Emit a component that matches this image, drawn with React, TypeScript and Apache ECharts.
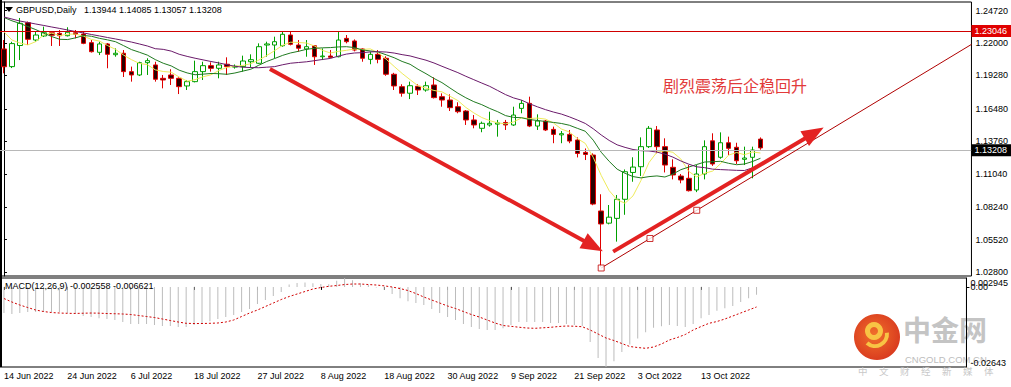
import React, { useEffect, useRef } from "react";
import * as echarts from "echarts";

const FONT = "'Liberation Sans', Arial, sans-serif";
const CJK = "'Noto Sans CJK SC', sans-serif";

const symbolName = "GBPUSD,Daily";
const lastOHLC = [1.13944, 1.14085, 1.13057, 1.13208];
const macdLabel = "MACD(12,26,9) -0.002558 -0.006621";
const noteText = "剧烈震荡后企稳回升";

const dates = [
  "14 Jun 2022", "15 Jun 2022", "16 Jun 2022", "17 Jun 2022", "20 Jun 2022", "21 Jun 2022", "22 Jun 2022", "23 Jun 2022",
  "24 Jun 2022", "27 Jun 2022", "28 Jun 2022", "29 Jun 2022", "30 Jun 2022", "1 Jul 2022", "4 Jul 2022", "5 Jul 2022",
  "6 Jul 2022", "7 Jul 2022", "8 Jul 2022", "11 Jul 2022", "12 Jul 2022", "13 Jul 2022", "14 Jul 2022", "15 Jul 2022",
  "18 Jul 2022", "19 Jul 2022", "20 Jul 2022", "21 Jul 2022", "22 Jul 2022", "24 Jul 2022", "25 Jul 2022", "26 Jul 2022",
  "27 Jul 2022", "28 Jul 2022", "29 Jul 2022", "1 Aug 2022", "2 Aug 2022", "3 Aug 2022", "4 Aug 2022", "5 Aug 2022",
  "8 Aug 2022", "9 Aug 2022", "10 Aug 2022", "11 Aug 2022", "12 Aug 2022", "15 Aug 2022", "16 Aug 2022", "17 Aug 2022",
  "18 Aug 2022", "19 Aug 2022", "22 Aug 2022", "23 Aug 2022", "24 Aug 2022", "25 Aug 2022", "26 Aug 2022", "29 Aug 2022",
  "30 Aug 2022", "31 Aug 2022", "1 Sep 2022", "2 Sep 2022", "5 Sep 2022", "6 Sep 2022", "7 Sep 2022", "8 Sep 2022",
  "9 Sep 2022", "12 Sep 2022", "13 Sep 2022", "14 Sep 2022", "15 Sep 2022", "16 Sep 2022", "19 Sep 2022", "20 Sep 2022",
  "21 Sep 2022", "22 Sep 2022", "23 Sep 2022", "26 Sep 2022", "27 Sep 2022", "28 Sep 2022", "29 Sep 2022", "30 Sep 2022",
  "3 Oct 2022", "4 Oct 2022", "5 Oct 2022", "6 Oct 2022", "7 Oct 2022", "10 Oct 2022", "11 Oct 2022", "12 Oct 2022",
  "13 Oct 2022", "14 Oct 2022", "17 Oct 2022", "18 Oct 2022", "19 Oct 2022", "20 Oct 2022", "21 Oct 2022", "24 Oct 2022",
];

const opens = [
  1.2150, 1.2002, 1.2179, 1.2370, 1.2225, 1.2259, 1.2286, 1.2281, 1.2261, 1.2286,
  1.2275, 1.2203, 1.2122, 1.2192, 1.2102, 1.2114, 1.1960, 1.1932, 1.2035, 1.2016,
  1.1904, 1.1932, 1.1904, 1.1840, 1.1876, 1.1960, 1.2010, 1.1988, 1.2022, 1.1998,
  1.2002, 1.2043, 1.2030, 1.2183, 1.2183, 1.2177, 1.2267, 1.2183, 1.2150, 1.2177,
  1.2085, 1.2091, 1.2085, 1.2239, 1.2217, 1.2150, 1.2063, 1.2105, 1.2072, 1.1938,
  1.1834, 1.1779, 1.1837, 1.1806, 1.1848, 1.1750, 1.1722, 1.1666, 1.1630, 1.1555,
  1.1485, 1.1513, 1.1520, 1.1534, 1.1513, 1.1652, 1.1694, 1.1504, 1.1546, 1.1476,
  1.1430, 1.1434, 1.1387, 1.1283, 1.1261, 1.0792, 1.0690, 1.0730, 1.0890, 1.1115,
  1.1163, 1.1331, 1.1471, 1.1331, 1.1158, 1.1085, 1.1066, 1.0968, 1.1102, 1.1380,
  1.1242, 1.1364, 1.1326, 1.1225, 1.1242, 1.13944,
];
const highs = [
  1.2225, 1.2210, 1.2410, 1.2380, 1.2295, 1.2337, 1.2300, 1.2309, 1.2332, 1.2309,
  1.2295, 1.2225, 1.2211, 1.2200, 1.2155, 1.2141, 1.2002, 1.2043, 1.2072, 1.2043,
  1.1932, 1.1980, 1.1912, 1.1890, 1.2052, 1.2043, 1.2038, 1.2043, 1.2080, 1.2020,
  1.2094, 1.2105, 1.2197, 1.2211, 1.2253, 1.2300, 1.2295, 1.2225, 1.2225, 1.2183,
  1.2155, 1.2141, 1.2295, 1.2267, 1.2230, 1.2155, 1.2127, 1.2141, 1.2089, 1.1950,
  1.1854, 1.1876, 1.1854, 1.1876, 1.1912, 1.1778, 1.1770, 1.1703, 1.1638, 1.1596,
  1.1541, 1.1624, 1.1555, 1.1555, 1.1666, 1.1722, 1.1750, 1.1602, 1.1555, 1.1499,
  1.1462, 1.1471, 1.1409, 1.1316, 1.1275, 1.0932, 1.0842, 1.0926, 1.1140, 1.1242,
  1.1409, 1.1504, 1.1504, 1.1401, 1.1225, 1.1102, 1.1177, 1.1177, 1.1384, 1.1443,
  1.1451, 1.1415, 1.1364, 1.1331, 1.1331, 1.14085,
];
const lows = [
  1.1946, 1.1990, 1.2057, 1.2183, 1.2211, 1.2250, 1.2175, 1.2175, 1.2255, 1.2239,
  1.2190, 1.2120, 1.2099, 1.1988, 1.2085, 1.1915, 1.1876, 1.1923, 1.1932, 1.1876,
  1.1820, 1.1848, 1.1772, 1.1806, 1.1870, 1.1890, 1.1960, 1.1904, 1.1932, 1.1985,
  1.1960, 1.1993, 1.2025, 1.2085, 1.2072, 1.2169, 1.2180, 1.2127, 1.2085, 1.2016,
  1.2057, 1.2072, 1.2080, 1.2197, 1.2130, 1.2043, 1.2022, 1.2030, 1.1925, 1.1806,
  1.1750, 1.1730, 1.1764, 1.1792, 1.1735, 1.1666, 1.1630, 1.1611, 1.1513, 1.1485,
  1.1452, 1.1499, 1.1415, 1.1471, 1.1505, 1.1611, 1.1495, 1.1471, 1.1462, 1.1360,
  1.1360, 1.1360, 1.1241, 1.1219, 1.0840, 1.0325, 1.0680, 1.0535, 1.0760, 1.1037,
  1.1085, 1.1320, 1.1275, 1.1115, 1.1057, 1.1024, 1.0955, 1.0950, 1.1057, 1.1170,
  1.1230, 1.1261, 1.1186, 1.1177, 1.1066, 1.13057,
];
const closes = [
  1.2001, 1.2195, 1.2365, 1.2231, 1.2267, 1.2286, 1.2265, 1.2261, 1.2290, 1.2273,
  1.2197, 1.2127, 1.2192, 1.2105, 1.2114, 1.1960, 1.1932, 1.2035, 1.2052, 1.1896,
  1.1890, 1.1904, 1.1834, 1.1876, 1.1960, 1.2010, 1.1988, 1.2016, 1.2002, 1.2005,
  1.2049, 1.2060, 1.2169, 1.2192, 1.2211, 1.2273, 1.2189, 1.2156, 1.2169, 1.2085,
  1.2091, 1.2080, 1.2225, 1.2211, 1.2141, 1.2072, 1.2105, 1.2063, 1.1938, 1.1840,
  1.1779, 1.1842, 1.1806, 1.1842, 1.1742, 1.1722, 1.1658, 1.1624, 1.1555, 1.1513,
  1.1527, 1.1527, 1.1530, 1.1513, 1.1596, 1.1694, 1.1504, 1.1546, 1.1471, 1.1434,
  1.1440, 1.1378, 1.1274, 1.1266, 1.0850, 1.0683, 1.0740, 1.0890, 1.1121, 1.1160,
  1.1331, 1.1485, 1.1331, 1.1177, 1.1094, 1.1052, 1.0962, 1.1102, 1.1331, 1.1186,
  1.1364, 1.1317, 1.1213, 1.1236, 1.1303, 1.13208,
];

// moving-average values at the left edge (history before the first visible bar)
const ma5Lead = [1.2294, 1.2225, 1.2200, 1.2184];
const ma10Lead = [1.2414, 1.2386, 1.2364, 1.2338, 1.2312, 1.2282, 1.2254, 1.2231, 1.2229];
const ma20Lead = [
  1.2418, 1.2401, 1.2384, 1.2372, 1.2359, 1.2347, 1.2334, 1.2322, 1.2309, 1.2296,
  1.2284, 1.2271, 1.2259, 1.2246, 1.2234, 1.2221, 1.2208, 1.2192, 1.2175,
];

const macdMain = [
  -0.0086, -0.0089, -0.0086, -0.0083, -0.0083, -0.0083, -0.0083, -0.0083, -0.0086, -0.0089,
  -0.0096, -0.0099, -0.0103, -0.0106, -0.0109, -0.0116, -0.0122, -0.0122, -0.0122, -0.0126,
  -0.0129, -0.0129, -0.0132, -0.0132, -0.0126, -0.0119, -0.0113, -0.0106, -0.0099, -0.0093,
  -0.0083, -0.0073, -0.0056, -0.0043, -0.0030, -0.0017, 0.0008, 0.0013, 0.0015, 0.0012,
  0.0010, 0.0009, 0.0020, 0.002945, 0.0022, 0.0012, 0.0006, -0.0002, -0.0010, -0.0023,
  -0.0037, -0.0047, -0.0053, -0.0060, -0.0073, -0.0086, -0.0099, -0.0109, -0.0122, -0.0132,
  -0.0139, -0.0142, -0.0142, -0.0136, -0.0126, -0.0116, -0.0116, -0.0116, -0.0116, -0.0119,
  -0.0119, -0.0122, -0.0126, -0.0129, -0.0182, -0.0235, -0.02643, -0.0245, -0.0215, -0.0190,
  -0.0170, -0.0150, -0.0135, -0.0130, -0.0126, -0.0129, -0.0132, -0.0122, -0.0103, -0.0093,
  -0.0079, -0.0070, -0.0063, -0.0050, -0.0037, -0.002558,
];
const macdSignal = [
  -0.00383, -0.00498, -0.00597, -0.00680, -0.00762, -0.00812, -0.00845, -0.00861, -0.00871, -0.00875,
  -0.00868, -0.00862, -0.00866, -0.00878, -0.00885, -0.00894, -0.00911, -0.00944, -0.00977, -0.01010,
  -0.01059, -0.01109, -0.01158, -0.01201, -0.01208, -0.01208, -0.01201, -0.01191, -0.01158, -0.01092,
  -0.00977, -0.00861, -0.00762, -0.00647, -0.00531, -0.00416, -0.00317, -0.00234, -0.00152, -0.00069,
  -0.00020, 0.00020, 0.00046, 0.00079, 0.00096, 0.00096, 0.00079, 0.00063, 0.00036, -0.00003,
  -0.00053, -0.00119, -0.00218, -0.00333, -0.00432, -0.00531, -0.00630, -0.00713, -0.00812, -0.00911,
  -0.00993, -0.01092, -0.01191, -0.01274, -0.01300, -0.01330, -0.01356, -0.01366, -0.01350, -0.01333,
  -0.01307, -0.01290, -0.01297, -0.01314, -0.01422, -0.01554, -0.01686, -0.01769, -0.01868, -0.01967,
  -0.02000, -0.02026, -0.01983, -0.01884, -0.01752, -0.01670, -0.01571, -0.01422, -0.01307, -0.01201,
  -0.01142, -0.01059, -0.00960, -0.00861, -0.00762, -0.006621,
];

const priceTicks = [1.028, 1.0552, 1.0824, 1.1104, 1.1376, 1.1648, 1.1928, 1.22, 1.2472];
const PRICE_MIN = 1.024694;
const PRICE_MAX = 1.254367;
const MACD_MAX = 0.002945;
const MACD_MIN = -0.02643;
const resistanceLevel = 1.23046;
const bidLevel = 1.13208;

// drawn objects, in (bar index, price)
const downArrow = [[33.4, 1.19821], [74.0, 1.04984]];
const upArrow = [[76.5, 1.04511], [101.75, 1.14456]];
const trendLine = [[75, 1.0314], [121.5, 1.21883]];
const trendAnchors = [[75, 1.0314], [81.125, 1.05613], [87, 1.07977]];

const watermarkName = "中金网";
const watermarkSite = "CNGOLD.COM.CN";
const watermarkSlogan = ["中", "文", "财", "经", "新", "媒", "体"];

const PAD = 26;

function movingAverage(period: number, lead: number[]) {
  return closes.map((_, i) => {
    if (i < period - 1) return lead[i];
    let s = 0;
    for (let k = i - period + 1; k <= i; k++) s += closes[k];
    return +(s / period).toFixed(5);
  });
}

export default function App() {
  const ref = useRef<HTMLDivElement>(null);
  useEffect(() => {
    if (!ref.current) return;
    const chart = echarts.init(ref.current, null, { renderer: "svg" });
    const categories = [...dates, ...Array.from({ length: PAD }, (_, k) => `pad${k}`)];
    const labelInterval = (index: number) => index < dates.length && index % 8 === 0;
    const candles = dates.map((_, i) => [opens[i], closes[i], lows[i], highs[i]]);
    const small = { fontSize: 9, color: "#000", fontFamily: FONT };

    const option: any = {
      animation: false,
      textStyle: { fontFamily: FONT },
      title: [
        {
          text: `${symbolName}   ${lastOHLC.map((v) => v.toFixed(5)).join(" ")}`,
          left: 16,
          top: 5,
          padding: 0,
          textStyle: { ...small, fontWeight: "normal" },
        },
        {
          text: macdLabel,
          left: 5,
          top: 281,
          padding: 0,
          textStyle: { ...small, fontWeight: "normal" },
        },
      ],
      grid: [
        { left: -3, top: 2, width: 976, height: 274, show: true, borderColor: "#000", borderWidth: 1 },
        { left: -3, top: 278, width: 976, height: 89, show: true, borderColor: "#000", borderWidth: 1 },
      ],
      xAxis: [
        {
          type: "category", gridIndex: 0, data: categories, boundaryGap: true,
          axisLine: { show: false }, axisTick: { show: false }, axisLabel: { show: false }, splitLine: { show: false },
        },
        {
          type: "category", gridIndex: 1, data: categories, boundaryGap: true,
          axisLine: { show: false },
          axisTick: { show: true, alignWithLabel: true, interval: labelInterval, length: 3, lineStyle: { color: "#000" } },
          axisLabel: { show: true, interval: labelInterval, align: "left", margin: 4, ...small },
          splitLine: { show: false },
        },
        { type: "value", gridIndex: 0, min: -0.5, max: categories.length - 0.5, show: false },
      ],
      yAxis: [
        {
          type: "value", gridIndex: 0, position: "right", min: PRICE_MIN, max: PRICE_MAX,
          axisLine: { show: true, lineStyle: { color: "#000" } },
          axisTick: { show: true, customValues: priceTicks, length: 3, lineStyle: { color: "#000" } },
          axisLabel: { customValues: priceTicks, formatter: (v: number) => v.toFixed(5), margin: 4, ...small },
          splitLine: { show: false },
        },
        {
          type: "value", gridIndex: 1, position: "right", min: MACD_MIN, max: MACD_MAX,
          axisLine: { show: true, lineStyle: { color: "#000" } },
          axisTick: { show: true, customValues: [0], length: 3, lineStyle: { color: "#000" } },
          axisLabel: { customValues: [0], formatter: () => "0.00", margin: 4, ...small },
          splitLine: { show: false },
        },
        {
          type: "value", gridIndex: 1, position: "right", min: MACD_MIN, max: MACD_MAX,
          axisLine: { show: false }, axisTick: { show: false }, splitLine: { show: false },
          axisLabel: { customValues: [MACD_MAX], formatter: (v: number) => v.toFixed(6), verticalAlign: "top", margin: 4, ...small },
        },
        {
          type: "value", gridIndex: 1, position: "right", min: MACD_MIN, max: MACD_MAX,
          axisLine: { show: false }, axisTick: { show: false }, splitLine: { show: false },
          axisLabel: { customValues: [MACD_MIN], formatter: (v: number) => v.toFixed(5), verticalAlign: "bottom", margin: 4, ...small },
        },
      ],
      graphic: [
        { type: "rect", silent: true, shape: { x: 0, y: 0, width: 2, height: 367 }, style: { fill: "#000" } },
        { type: "polygon", silent: true, shape: { points: [[5, 7], [13, 7], [9, 12]] }, style: { fill: "#000" } },
        {
          type: "text", silent: true, x: 663, y: 77,
          style: { text: noteText, fill: "#e23a3a", fontSize: 16, fontFamily: CJK },
        },
        {
          type: "group", silent: true,
          children: [
            {
              type: "circle", shape: { cx: 877, cy: 337, r: 23 },
              style: {
                fill: new echarts.graphic.RadialGradient(0.45, 0.45, 0.6, [
                  { offset: 0, color: "#f0702c" },
                  { offset: 1, color: "#d8381e" },
                ]),
              },
            },
            { type: "ring", shape: { cx: 874, cy: 331, r: 9, r0: 4 }, style: { fill: "#f8c444" } },
            { type: "arc", shape: { cx: 875, cy: 334, r: 12, startAngle: -0.1, endAngle: 2.3 }, style: { stroke: "#f8c444", lineWidth: 4, fill: "none" } },
            { type: "text", x: 903, y: 315, style: { text: watermarkName, fill: "#c4c4c4", fontSize: 28, fontWeight: "bold", fontFamily: CJK } },
            { type: "text", x: 905, y: 354, style: { text: watermarkSite, fill: "#bdbdbd", fontSize: 9.5, fontFamily: FONT } },
            ...watermarkSlogan.map((ch, k) => ({
              type: "text", x: 858 + k * 21, y: 366,
              style: { text: ch, fill: "#c8c8c8", fontSize: 9.5, fontFamily: CJK },
            })),
          ],
        },
      ],
      series: [
        {
          name: "GBPUSD", type: "candlestick", xAxisIndex: 0, yAxisIndex: 0, data: candles, barWidth: 5, z: 2,
          itemStyle: { color: "#ffffff", color0: "#2a0000", borderColor: "#00a000", borderColor0: "#e00000", borderWidth: 1 },
          markLine: {
            silent: true, symbol: "none", animation: false,
            data: [
              {
                yAxis: resistanceLevel,
                lineStyle: { color: "#d00000", width: 1, type: "solid" },
                label: {
                  show: true, position: "end", distance: 0, formatter: () => resistanceLevel.toFixed(5),
                  color: "#fff", backgroundColor: "#e00000", padding: [2, 4, 1, 3], fontSize: 9, fontFamily: FONT,
                },
              },
              {
                yAxis: bidLevel,
                lineStyle: { color: "#b8b8b8", width: 1, type: "solid" },
                label: {
                  show: true, position: "end", distance: 0, formatter: () => bidLevel.toFixed(5),
                  color: "#fff", backgroundColor: "#000", padding: [2, 4, 1, 3], fontSize: 9, fontFamily: FONT,
                },
              },
            ],
          },
        },
        {
          name: "MA5", type: "line", xAxisIndex: 0, yAxisIndex: 0, data: movingAverage(5, ma5Lead), z: 3,
          symbol: "none", lineStyle: { color: "#eeea5a", width: 1 },
        },
        {
          name: "MA10", type: "line", xAxisIndex: 0, yAxisIndex: 0, data: movingAverage(10, ma10Lead), z: 3,
          symbol: "none", lineStyle: { color: "#207a20", width: 1 },
        },
        {
          name: "MA20", type: "line", xAxisIndex: 0, yAxisIndex: 0, data: movingAverage(20, ma20Lead), z: 3,
          symbol: "none", lineStyle: { color: "#6a1a6a", width: 1 },
        },
        {
          name: "trend", type: "scatter", xAxisIndex: 2, yAxisIndex: 0, data: trendAnchors, z: 5,
          symbol: "rect", symbolSize: 6,
          itemStyle: { color: "#ffffff", borderColor: "#c00000", borderWidth: 1 },
          markLine: {
            silent: true, animation: false, label: { show: false },
            data: [
              [
                { coord: trendLine[0], symbol: "none", lineStyle: { color: "#b00000", width: 1, type: "solid" } },
                { coord: trendLine[1], symbol: "none" },
              ],
              [
                { coord: downArrow[0], symbol: "none", lineStyle: { color: "#e32222", width: 4, type: "solid" } },
                { coord: downArrow[1], symbol: "triangle", symbolSize: [17, 22] },
              ],
              [
                { coord: upArrow[0], symbol: "none", lineStyle: { color: "#e32222", width: 4, type: "solid" } },
                { coord: upArrow[1], symbol: "triangle", symbolSize: [17, 22] },
              ],
            ],
          },
        },
        {
          name: "MACD", type: "bar", xAxisIndex: 1, yAxisIndex: 1, data: macdMain, barWidth: 1,
          itemStyle: { color: "#bcbcbc" },
        },
        {
          name: "Signal", type: "line", xAxisIndex: 1, yAxisIndex: 1, data: macdSignal, symbol: "none",
          lineStyle: { color: "#d00000", width: 1, type: [2, 2] },
        },
      ],
    };
    chart.setOption(option);
    return () => chart.dispose();
  }, []);
  return (
    <div
      ref={ref}
      style={{ position: "fixed", left: 0, top: 0, width: 1011, height: 387, background: "#fff" }}
    />
  );
}
